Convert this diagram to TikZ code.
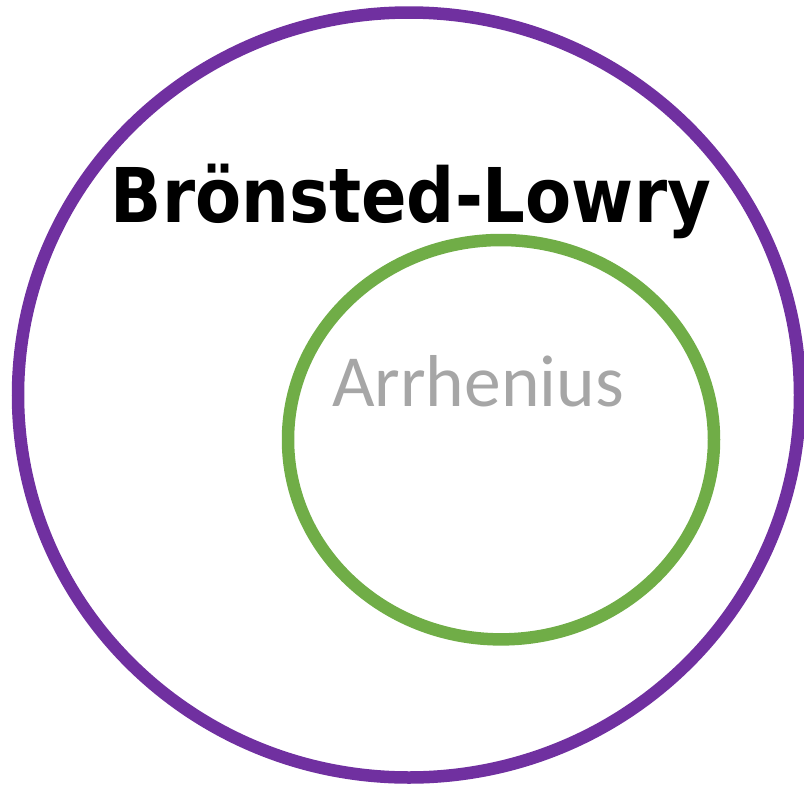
\documentclass[tikz,border=0pt]{standalone}
\usepackage{fontspec}
\setmainfont{DejaVu Sans}
\newfontfamily\brfont{DejaVu Sans}
\newfontfamily\arrfont{Carlito}
\definecolor{outerpurple}{HTML}{7030A0}
\definecolor{innergreen}{HTML}{70AD47}
\definecolor{labelgray}{HTML}{A6A6A6}
\tikzset{
  ring/.style={line width=12.5pt},
  bigtitle/.style={font=\brfont\bfseries\fontsize{75.5}{80}\selectfont, text=black, inner sep=0pt, anchor=base},
  smalltitle/.style={font=\arrfont\fontsize{73.5}{80}\selectfont, text=labelgray, inner sep=0pt, anchor=base},
}
\begin{document}
\begin{tikzpicture}[x=1pt,y=-1pt]
\useasboundingbox (0,0) rectangle (804,785);
\draw[ring, outerpurple] (409,395) ellipse [x radius=391, y radius=382.5];
\draw[ring, innergreen] (501,439.7) ellipse [x radius=213, y radius=199.7];
\node[bigtitle, xscale=0.89] (bl) at (411,222) {Brönsted-Lowry};
\node[smalltitle] (arr) at (478,406) {Arrhenius};
\end{tikzpicture}
\end{document}
